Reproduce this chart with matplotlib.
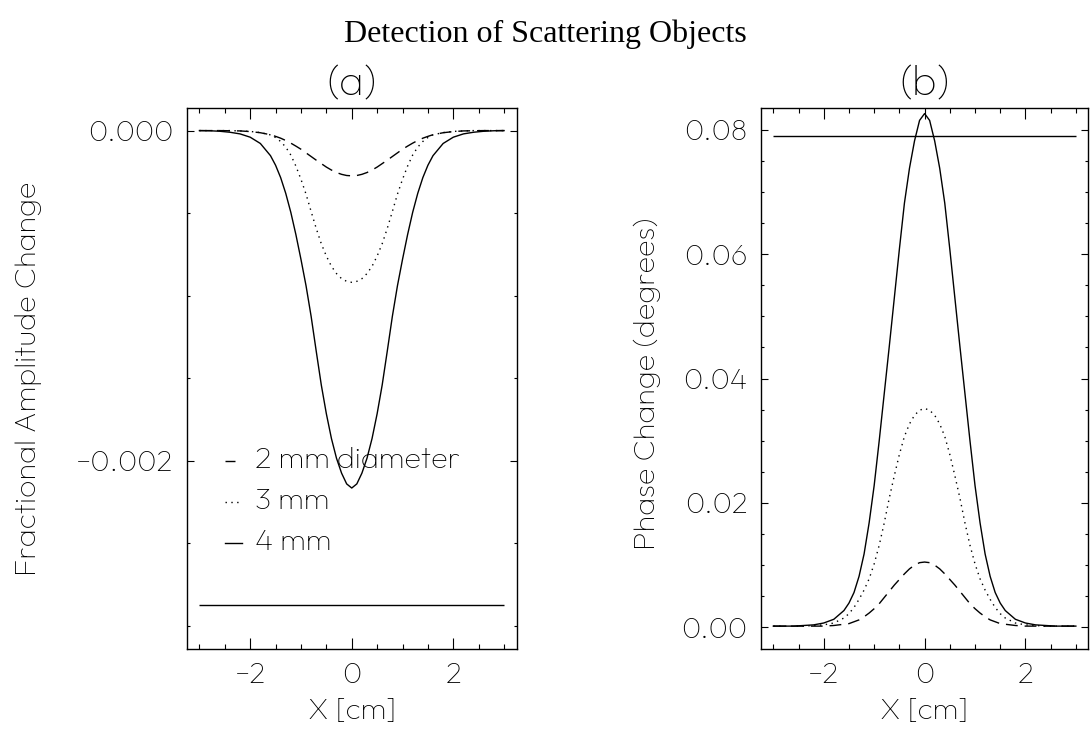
import matplotlib
matplotlib.use("Agg")
import matplotlib.pyplot as plt
from matplotlib.ticker import FixedLocator, MultipleLocator, FixedFormatter

# ---------------- data ----------------
x_cm = [-3.0, -2.8, -2.6, -2.4, -2.2, -2.0, -1.8,
        -1.6, -1.5, -1.4, -1.3, -1.2, -1.1, -1.0, -0.9, -0.8, -0.7, -0.6, -0.5,
        -0.4, -0.3, -0.2, -0.1, 0.0, 0.1, 0.2, 0.3, 0.4, 0.5, 0.6, 0.7, 0.8,
        0.9, 1.0, 1.1, 1.2, 1.3, 1.4, 1.5, 1.6,
        1.8, 2.0, 2.2, 2.4, 2.6, 2.8, 3.0]

# (a) fractional amplitude change
amp_2mm = [0.0, 0.0, 0.0, -0.000001, -0.000002, -0.000006, -0.000013,
           -0.000025, -0.000035, -0.000046, -0.000060, -0.000076, -0.000094,
           -0.000113, -0.000135, -0.000157, -0.000179, -0.000200, -0.000221,
           -0.000239, -0.000254, -0.000265, -0.000272, -0.000274, -0.000272,
           -0.000265, -0.000254, -0.000239, -0.000221, -0.000200, -0.000179,
           -0.000157, -0.000135, -0.000113, -0.000094, -0.000076, -0.000060,
           -0.000046, -0.000035, -0.000025,
           -0.000013, -0.000006, -0.000002, -0.000001, 0.0, 0.0, 0.0]
amp_3mm = [0.0, 0.0, 0.0, 0.0, -0.000002, -0.000005, -0.000012,
           -0.000026, -0.000042, -0.000066, -0.000100, -0.000148, -0.000215,
           -0.000295, -0.000385, -0.000490, -0.000592, -0.000685, -0.000760,
           -0.000822, -0.000866, -0.000897, -0.000913, -0.000919, -0.000913,
           -0.000897, -0.000866, -0.000822, -0.000760, -0.000685, -0.000592,
           -0.000490, -0.000385, -0.000295, -0.000215, -0.000148, -0.000100,
           -0.000066, -0.000042, -0.000026,
           -0.000012, -0.000005, -0.000002, 0.0, 0.0, 0.0, 0.0]
amp_4mm = [0.0, -0.000001, -0.000004, -0.000010, -0.000020, -0.000040, -0.000078,
           -0.000152, -0.000210, -0.000285, -0.000380, -0.000495, -0.000630,
           -0.000780, -0.000940, -0.001125, -0.001335, -0.001540, -0.001715,
           -0.001865, -0.001985, -0.002075, -0.002140, -0.002165, -0.002140,
           -0.002075, -0.001985, -0.001865, -0.001715, -0.001540, -0.001335,
           -0.001125, -0.000940, -0.000780, -0.000630, -0.000495, -0.000380,
           -0.000285, -0.000210, -0.000152,
           -0.000078, -0.000040, -0.000020, -0.000010, -0.000004, -0.000001, 0.0]
amp_threshold = -0.002873

# (b) phase change (degrees)
ph_2mm = [0.0002, 0.0002, 0.0002, 0.0002, 0.0002, 0.0002, 0.0003,
          0.0005, 0.0006, 0.0009, 0.0012, 0.0017, 0.0023, 0.0030, 0.0038,
          0.0048, 0.0058, 0.0068, 0.0077, 0.0086, 0.0094, 0.0100, 0.0104,
          0.0105, 0.0104, 0.0100, 0.0094, 0.0086, 0.0077, 0.0068, 0.0058,
          0.0048, 0.0038, 0.0030, 0.0023, 0.0017, 0.0012, 0.0009, 0.0006,
          0.0005,
          0.0003, 0.0002, 0.0002, 0.0002, 0.0002, 0.0002, 0.0002]
ph_3mm = [0.0002, 0.0002, 0.0002, 0.0002, 0.0003, 0.0004, 0.0007,
          0.0015, 0.0022, 0.0032, 0.0045, 0.0060, 0.0078, 0.0102, 0.0132,
          0.0168, 0.0208, 0.0244, 0.0278, 0.0307, 0.0327, 0.0341, 0.0349,
          0.0352, 0.0349, 0.0341, 0.0327, 0.0307, 0.0278, 0.0244, 0.0208,
          0.0168, 0.0132, 0.0102, 0.0078, 0.0060, 0.0045, 0.0032, 0.0022,
          0.0015,
          0.0007, 0.0004, 0.0003, 0.0002, 0.0002, 0.0002, 0.0002]
ph_4mm = [0.0002, 0.0002, 0.0002, 0.0003, 0.0004, 0.0007, 0.0013,
          0.0027, 0.0039, 0.0056, 0.0082, 0.0118, 0.0168, 0.0228, 0.0300,
          0.0376, 0.0452, 0.0530, 0.0608, 0.0682, 0.0738, 0.0782, 0.0815,
          0.0826, 0.0815, 0.0782, 0.0738, 0.0682, 0.0608, 0.0530, 0.0452,
          0.0376, 0.0300, 0.0228, 0.0168, 0.0118, 0.0082, 0.0056, 0.0039,
          0.0027,
          0.0013, 0.0007, 0.0004, 0.0003, 0.0002, 0.0002, 0.0002]
ph_threshold = 0.07898

legend_labels = ["2 mm diameter", "3 mm", "4 mm"]
amp_yticks = [-0.002, 0.0]
amp_yticklabels = ["\u22120.002", "0.000"]
ph_yticks = [0.00, 0.02, 0.04, 0.06, 0.08]
ph_yticklabels = ["0.00", "0.02", "0.04", "0.06", "0.08"]
xticks = [-2, 0, 2]
xticklabels = ["\u22122", "0", "2"]

# ---------------- style ----------------
SANS = ['Outfit', 'DejaVu Sans']
plt.rcParams['font.family'] = SANS
plt.rcParams['axes.unicode_minus'] = True

LW = 1.0
DASH = (0, (8.5, 5.0))
DOT = (0, (1.0, 3.2))
TICK_FS = 21
LABEL_FS = 22

fig = plt.figure(figsize=(10.9, 7.36), dpi=100)
axL = fig.add_axes([0.1713, 0.1182, 0.3028, 0.7351])
axR = fig.add_axes([0.6979, 0.1182, 0.3007, 0.7351])


def style_axes(ax, yticks, yticklabels, yminor):
    ax.set_xlim(-3.25, 3.25)
    ax.xaxis.set_major_locator(FixedLocator(xticks))
    ax.xaxis.set_major_formatter(FixedFormatter(xticklabels))
    ax.xaxis.set_minor_locator(MultipleLocator(0.5))
    ax.yaxis.set_major_locator(FixedLocator(yticks))
    ax.yaxis.set_major_formatter(FixedFormatter(yticklabels))
    ax.yaxis.set_minor_locator(MultipleLocator(yminor))
    ax.tick_params(axis='both', which='both', direction='in', top=True, right=True,
                   colors='black', labelsize=TICK_FS, width=0.8)
    ax.tick_params(axis='x', which='major', length=7.8, pad=9)
    ax.tick_params(axis='x', which='minor', length=3.9)
    ax.tick_params(axis='y', which='major', length=4.8, pad=9.5)
    ax.tick_params(axis='y', which='minor', length=2.4)
    for s in ax.spines.values():
        s.set_linewidth(1.0)
        s.set_color('black')
    ax.text(0.5, -0.1165, "X [cm]", transform=ax.transAxes, ha='center', va='center',
            fontsize=LABEL_FS)


# ---- panel (a)
axL.plot(x_cm, amp_2mm, color='black', lw=LW, linestyle=DASH)
axL.plot(x_cm, amp_3mm, color='black', lw=LW, linestyle=DOT)
axL.plot(x_cm, amp_4mm, color='black', lw=LW, linestyle='-')
axL.hlines(amp_threshold, x_cm[0], x_cm[-1], color='black', lw=LW)
axL.set_ylim(-0.00314, 0.000137)
style_axes(axL, amp_yticks, amp_yticklabels, 0.0005)
axL.text(0.5, 1.0425, "(a)", transform=axL.transAxes, ha='center', va='center', fontsize=30)

# legend drawn like the IDL original
leg_y = [0.3475, 0.2717, 0.196]
leg_styles = [DASH, DOT, '-']
leg_x = [(0.116, 0.146), (0.116, 0.168), (0.116, 0.168)]
for yy, st, (x0, x1), lab in zip(leg_y, leg_styles, leg_x, legend_labels):
    axL.plot([x0, x1], [yy, yy], transform=axL.transAxes, color='black', lw=LW, linestyle=st)
    axL.text(0.207, yy, lab, transform=axL.transAxes, ha='left', va='center', fontsize=LABEL_FS)

# ---- panel (b)
axR.plot(x_cm, ph_2mm, color='black', lw=LW, linestyle=DASH)
axR.plot(x_cm, ph_3mm, color='black', lw=LW, linestyle=DOT)
axR.plot(x_cm, ph_4mm, color='black', lw=LW, linestyle='-')
axR.hlines(ph_threshold, x_cm[0], x_cm[-1], color='black', lw=LW)
axR.set_ylim(-0.00348, 0.0835)
style_axes(axR, ph_yticks, ph_yticklabels, 0.005)
axR.text(0.5, 1.0425, "(b)", transform=axR.transAxes, ha='center', va='center', fontsize=30)

# axis titles
fig.text(28.5 / 1090, 1 - 379 / 736, "Fractional Amplitude Change", rotation=90,
         ha='center', va='center', fontsize=LABEL_FS)
fig.text(647 / 1090, 1 - 384 / 736, "Phase Change (degrees)", rotation=90,
         ha='center', va='center', fontsize=LABEL_FS)

fig.text(0.5, 1 - 42 / 736, "Detection of Scattering Objects", ha='center', va='baseline',
         family='Liberation Serif', fontsize=23)

fig.savefig("out.png", dpi=100)
